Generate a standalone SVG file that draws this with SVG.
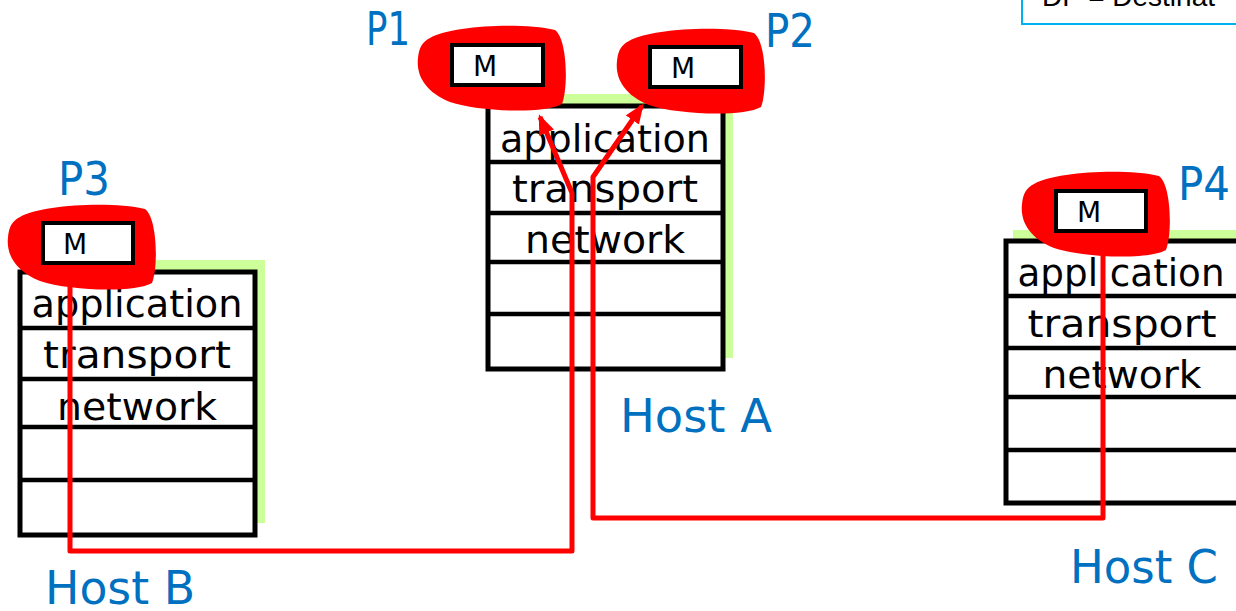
<svg xmlns="http://www.w3.org/2000/svg" width="1236" height="611" viewBox="0 0 1236 611">
  <style>
    .shadow { fill: #ccff99; }
    .stack { fill: #ffffff; stroke: #000000; stroke-width: 5; }
    .div { stroke: #000000; stroke-width: 4.5; }
    .layer { font-family: "Comic Sans MS", "DejaVu Sans", sans-serif; font-size: 37px; fill: #000000; text-anchor: middle; }
    .lbl { font-family: "Comic Sans MS", "DejaVu Sans", sans-serif; font-size: 46px; fill: #0070c0; }
    .blob { fill: #ff0000; }
    .mbox { fill: #ffffff; stroke: #000000; stroke-width: 4; }
    .m { font-family: "Comic Sans MS", "DejaVu Sans", sans-serif; font-size: 28px; fill: #000000; text-anchor: middle; }
    .conn { fill: none; stroke: #ff0000; stroke-width: 5; stroke-linejoin: round; }
    .legend { fill: #ffffff; stroke: #00b0f0; stroke-width: 2; }
    .legtxt { font-family: "Liberation Sans", Arial, sans-serif; font-size: 28px; fill: #000000; }
  </style>
  <defs>
    <path id="blobShape" d="M 12,14 C 32,2 102,-2 137,6 C 150,16 150,66 144,80 C 127,90 62,88 32,78 C 7,68 -2,51 0,34 C 1,24 4,18 12,14 Z"/>
    <marker id="arrow" markerUnits="userSpaceOnUse" markerWidth="20" markerHeight="16" refX="17" refY="8" orient="auto">
      <path d="M0,0 L20,8 L0,16 Z" fill="#ff0000"/>
    </marker>
  </defs>
  <rect width="1236" height="611" fill="#ffffff"/>

  <g id="legend">
    <rect class="legend" x="1022" y="-30" width="240" height="54"/>
    <text class="legtxt" x="1042" y="6">DP = Destinat</text>
  </g>

  <g id="hostB">
    <rect class="shadow" x="27" y="260" width="238" height="263"/>
    <rect class="stack" x="20" y="272" width="235" height="263"/>
    <line class="div" x1="20" y1="328" x2="255" y2="328"/>
    <line class="div" x1="20" y1="379" x2="255" y2="379"/>
    <line class="div" x1="20" y1="427" x2="255" y2="427"/>
    <line class="div" x1="20" y1="480" x2="255" y2="480"/>
    <text class="layer" x="137" y="317" textLength="211" lengthAdjust="spacingAndGlyphs">application</text>
    <text class="layer" x="137" y="368" textLength="188" lengthAdjust="spacingAndGlyphs">transport</text>
    <text class="layer" x="137" y="420" textLength="160" lengthAdjust="spacingAndGlyphs">network</text>
    <text class="lbl" x="45" y="604" textLength="150" lengthAdjust="spacingAndGlyphs">Host B</text>
  </g>

  <g id="hostA">
    <rect class="shadow" x="494" y="94" width="239" height="264"/>
    <rect class="stack" x="488" y="106" width="235" height="263"/>
    <line class="div" x1="488" y1="162" x2="723" y2="162"/>
    <line class="div" x1="488" y1="213" x2="723" y2="213"/>
    <line class="div" x1="488" y1="262" x2="723" y2="262"/>
    <line class="div" x1="488" y1="314" x2="723" y2="314"/>
    <text class="layer" x="605" y="152" textLength="210" lengthAdjust="spacingAndGlyphs">application</text>
    <text class="layer" x="605" y="202" textLength="186" lengthAdjust="spacingAndGlyphs">transport</text>
    <text class="layer" x="605" y="253" textLength="160" lengthAdjust="spacingAndGlyphs">network</text>
    <text class="lbl" x="620" y="432" textLength="152" lengthAdjust="spacingAndGlyphs">Host A</text>
  </g>

  <g id="hostC">
    <rect class="shadow" x="1013" y="230" width="240" height="265"/>
    <rect class="stack" x="1006" y="241" width="240" height="262"/>
    <line class="div" x1="1006" y1="296" x2="1246" y2="296"/>
    <line class="div" x1="1006" y1="348" x2="1246" y2="348"/>
    <line class="div" x1="1006" y1="397" x2="1246" y2="397"/>
    <line class="div" x1="1006" y1="450" x2="1246" y2="450"/>
    <text class="layer" x="1121" y="286" textLength="207" lengthAdjust="spacingAndGlyphs">appl cation</text>
    <text class="layer" x="1122" y="337" textLength="189" lengthAdjust="spacingAndGlyphs">transport</text>
    <text class="layer" x="1122" y="388" textLength="159" lengthAdjust="spacingAndGlyphs">network</text>
    <text class="lbl" x="1070" y="583" textLength="148" lengthAdjust="spacingAndGlyphs">Host C</text>
  </g>

  <g id="P1">
    <use href="#blobShape" class="blob" transform="translate(418,24)"/>
    <rect class="mbox" x="452" y="45" width="91" height="40"/>
    <text class="m" x="485" y="76">M</text>
    <text class="lbl" x="366" y="45" textLength="44" lengthAdjust="spacingAndGlyphs">P1</text>
  </g>

  <g id="P2">
    <use href="#blobShape" class="blob" transform="translate(617,27)"/>
    <rect class="mbox" x="650" y="47" width="91" height="40"/>
    <text class="m" x="683" y="78">M</text>
    <text class="lbl" x="765" y="47" textLength="50" lengthAdjust="spacingAndGlyphs">P2</text>
  </g>

  <g id="P3">
    <use href="#blobShape" class="blob" transform="translate(8,203)"/>
    <rect class="mbox" x="43" y="223" width="90" height="40"/>
    <text class="m" x="75" y="254">M</text>
    <text class="lbl" x="58" y="195" textLength="52" lengthAdjust="spacingAndGlyphs">P3</text>
  </g>

  <g id="P4">
    <use href="#blobShape" class="blob" transform="translate(1022,170)"/>
    <rect class="mbox" x="1056" y="191" width="90" height="40"/>
    <text class="m" x="1089" y="222">M</text>
    <text class="lbl" x="1178" y="200" textLength="52" lengthAdjust="spacingAndGlyphs">P4</text>
  </g>

  <g id="connectors">
    <path class="conn" d="M 70,286 L 70,551 L 572,551 L 572,193 L 540,117" marker-end="url(#arrow)"/>
    <path class="conn" d="M 1103,255 L 1103,518 L 593,518 L 593,177 L 642,106" marker-end="url(#arrow)"/>
  </g>
</svg>
